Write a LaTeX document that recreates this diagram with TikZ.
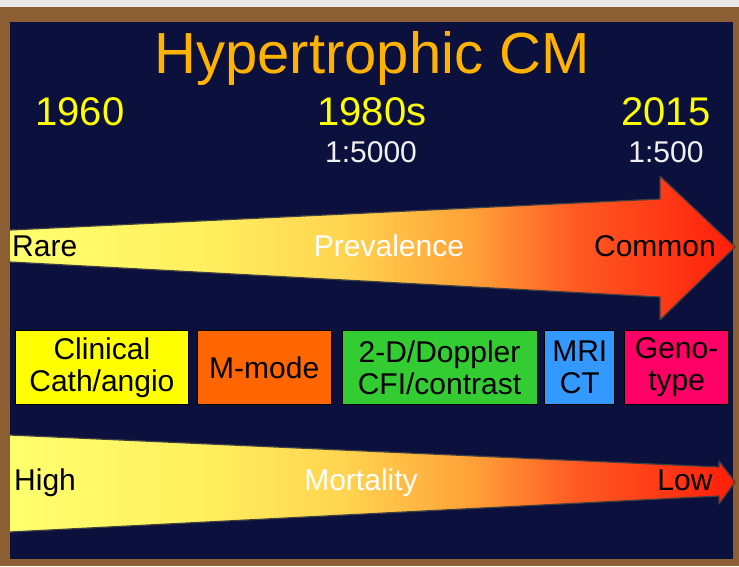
\documentclass[tikz,border=0pt]{standalone}
\usepackage{fontspec}
\setmainfont{Liberation Sans}
\usetikzlibrary{positioning}

\definecolor{slate}{RGB}{232,232,232}
\definecolor{framebrown}{RGB}{139,94,52}
\definecolor{navy}{RGB}{12,16,60}
\definecolor{titleorange}{RGB}{255,178,0}
\definecolor{yearyellow}{RGB}{255,255,0}
\definecolor{ratiogray}{RGB}{240,240,240}
\definecolor{clinyellow}{RGB}{255,255,0}
\definecolor{mmodeorange}{RGB}{255,102,0}
\definecolor{echogreen}{RGB}{51,204,51}
\definecolor{mriblue}{RGB}{51,153,255}
\definecolor{genopink}{RGB}{255,0,102}
\definecolor{h0}{RGB}{255,255,110}
\definecolor{h1}{RGB}{255,240,95}
\definecolor{h2}{RGB}{255,212,80}
\definecolor{h3}{RGB}{255,160,55}
\definecolor{h4}{RGB}{255,90,35}
\definecolor{h5}{RGB}{255,30,10}
\pgfdeclarehorizontalshading{heat}{100bp}{color(0bp)=(h0); color(25bp)=(h0); color(38bp)=(h1); color(48bp)=(h2); color(57bp)=(h3); color(64bp)=(h4); color(75bp)=(h5); color(100bp)=(h5)}

\begin{document}
\begin{tikzpicture}[x=1pt, y=-1pt,
    box/.style={draw=black, line width=0.8pt, minimum height=74pt, inner sep=0pt, align=center, text=black, font=\fontsize{30}{32}\selectfont},
    year/.style={anchor=base, text=yearyellow, font=\fontsize{40}{44}\selectfont},
    ratio/.style={anchor=base, text=ratiogray, font=\fontsize{30}{32}\selectfont},
    bandlabel/.style={anchor=base, inner sep=0pt, font=\fontsize{30}{32}\selectfont},
    bandedge/.style={draw=black!75, line width=1.2pt, line join=round}]
    \useasboundingbox (0,0) rectangle (739,566);
    \fill [slate] (0,0) rectangle (739,566);
    \fill [framebrown] (0,7) rectangle (739,566);
    \fill [navy] (10,22) rectangle (733,559);

    \node (title) [anchor=base, text=titleorange, font=\fontsize{58}{60}\selectfont] at (372,73) {Hypertrophic CM};
    \node (y1960) [year] at (80,125) {1960};
    \node (y1980) [year] at (372,125) {1980s};
    \node (y2015) [year] at (666,125) {2015};
    \node (r1980) [ratio] at (371,162) {1:5000};
    \node (r2015) [ratio] at (666,162) {1:500};

    \shade [shading=heat] (10,230) -- (660,199) -- (660,176) -- (735,247) -- (660,320) -- (660,297) -- (10,262) -- cycle;
    \draw [bandedge] (10,230) -- (660,199) -- (660,176) -- (735,247) -- (660,320) -- (660,297) -- (10,262);
    \node (rare) [bandlabel, anchor=base west] at (12,256) {Rare};
    \node (prev) [bandlabel, text=white] at (389,256) {Prevalence};
    \node (common) [bandlabel] at (655,256) {Common};

    \node (clin) [box, fill=clinyellow, minimum width=173pt, anchor=north west] at (15,330) {Clinical\\Cath/angio};
    \node (mmode) [box, fill=mmodeorange, minimum width=134pt, right=8pt of clin] {M-mode};
    \node (echo) [box, fill=echogreen, minimum width=195pt, right=10pt of mmode] {2-D/Doppler\\CFI/contrast};
    \node (mri) [box, fill=mriblue, minimum width=70pt, right=7pt of echo] {MRI\\CT};
    \node (geno) [box, fill=genopink, minimum width=104pt, right=9pt of mri] {Geno-\\type};

    \shade [shading=heat] (10,435) -- (719,467) -- (719,461) -- (735,482) -- (719,504) -- (719,496) -- (10,532) -- cycle;
    \draw [bandedge] (10,435) -- (719,467) -- (719,461) -- (735,482) -- (719,504) -- (719,496) -- (10,532);
    \node (high) [bandlabel, anchor=base west] at (14,490) {High};
    \node (mort) [bandlabel, text=white] at (361,490) {Mortality};
    \node (low) [bandlabel] at (685,490) {Low};
\end{tikzpicture}
\end{document}
